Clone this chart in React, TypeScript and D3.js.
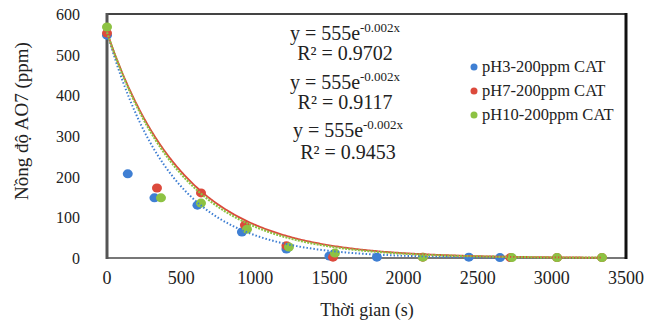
import * as d3 from 'd3';
import * as React from 'react';

// readings
const xTicks = [0, 500, 1000, 1500, 2000, 2500, 3000, 3500];
const yTicks = [0, 100, 200, 300, 400, 500, 600];

const ph3Time = [0, 140, 320, 610, 910, 1210, 1500, 1820, 2440, 2650];
const ph3Conc = [548, 207, 148, 130, 64, 22, 5, 2, 2, 1];

const ph7Time = [0, 337, 634, 930, 1210, 1524, 2130, 2720, 3035, 3338];
const ph7Conc = [553, 172, 160, 81, 30, 2, 2, 1, 1, 1];

const ph10Time = [0, 364, 634, 944, 1227, 1537, 2130, 2730, 3035, 3338];
const ph10Conc = [568, 148, 135, 71, 27, 12, 2, 1, 1, 1];

const seriesNames = ['pH3-200ppm CAT', 'pH7-200ppm CAT', 'pH10-200ppm CAT'];
const fitA = [555, 555, 555];
const fitK = [0.0023, 0.00192, 0.00198];
const fitR2 = ['0.9702', '0.9117', '0.9453'];

const colors = ['#3f7fd3', '#dc4a3c', '#8dc243'];

const Chart = () => {
  const ref = React.useRef<SVGSVGElement | null>(null);

  React.useEffect(() => {
    if (!ref.current) return;
    const svg = d3.select(ref.current);
    svg.selectAll('*').remove();

    const margin = { top: 14, right: 23, bottom: 67, left: 107 };
    const width = 649;
    const height = 325;
    const innerW = width - margin.left - margin.right;
    const innerH = height - margin.top - margin.bottom;

    const x = d3.scaleLinear().domain([0, 3500]).range([margin.left, margin.left + innerW]);
    const y = d3.scaleLinear().domain([0, 600]).range([margin.top + innerH, margin.top]);

    const font = '"Liberation Serif", "Times New Roman", serif';

    svg.append('rect').attr('width', width).attr('height', height).attr('fill', '#fff');

    // frame
    svg.append('line').attr('x1', x(0)).attr('x2', x(3500)).attr('y1', y(600)).attr('y2', y(600)).attr('stroke', '#444').attr('stroke-width', 2);
    svg.append('line').attr('x1', x(0)).attr('x2', x(3500)).attr('y1', y(0)).attr('y2', y(0)).attr('stroke', '#777').attr('stroke-width', 2);
    svg.append('line').attr('x1', x(0)).attr('x2', x(0)).attr('y1', y(600) - 1).attr('y2', y(0) + 1).attr('stroke', '#555').attr('stroke-width', 3);
    svg.append('line').attr('x1', x(3500)).attr('x2', x(3500)).attr('y1', y(600) - 1).attr('y2', y(0) + 1).attr('stroke', '#111').attr('stroke-width', 3);

    // tick labels
    svg
      .selectAll('.xt')
      .data(xTicks)
      .enter()
      .append('text')
      .attr('x', (d) => x(d))
      .attr('y', y(0) + 26)
      .attr('text-anchor', 'middle')
      .style('font-family', font)
      .style('font-size', '18px')
      .attr('fill', '#222')
      .text((d) => d);

    svg
      .selectAll('.yt')
      .data(yTicks)
      .enter()
      .append('text')
      .attr('x', 80)
      .attr('y', (d) => y(d) + 6)
      .attr('text-anchor', 'end')
      .style('font-family', font)
      .style('font-size', '16px')
      .attr('fill', '#222')
      .text((d) => d);

    svg
      .append('text')
      .attr('x', 367)
      .attr('y', 316)
      .attr('text-anchor', 'middle')
      .style('font-family', font)
      .style('font-size', '18px')
      .attr('fill', '#222')
      .text('Thời gian (s)');

    svg
      .append('text')
      .attr('transform', 'translate(28,121) rotate(-90)')
      .attr('text-anchor', 'middle')
      .style('font-family', font)
      .style('font-size', '19px')
      .attr('fill', '#222')
      .text('Nồng độ AO7 (ppm)');

    const series = [
      { t: ph3Time, c: ph3Conc },
      { t: ph7Time, c: ph7Conc },
      { t: ph10Time, c: ph10Conc },
    ];

    // markers
    series.forEach((s, i) => {
      svg
        .append('g')
        .selectAll('ellipse')
        .data(s.t.map((t, j) => [t, s.c[j]]))
        .enter()
        .append('ellipse')
        .attr('cx', (d) => x(d[0]))
        .attr('cy', (d) => y(d[1]))
        .attr('rx', 5)
        .attr('ry', 4.5)
        .attr('fill', colors[i]);
    });

    // exponential trendlines
    const line = d3
      .line<number[]>()
      .x((d) => x(d[0]))
      .y((d) => y(d[1]));
    const dashes = ['1.5 2', null, '2 1.2'];
    const widths = [2, 1.8, 2.2];
    series.forEach((s, i) => {
      const tMax = d3.max(s.t);
      const pts = d3.range(0, tMax + 1, 10).map((t) => [t, fitA[i] * Math.exp(-fitK[i] * t)]);
      svg
        .append('path')
        .attr('d', line(pts))
        .attr('fill', 'none')
        .attr('stroke', colors[i])
        .attr('stroke-width', widths[i])
        .attr('stroke-dasharray', dashes[i]);
    });

    // equations
    const eqY = [40, 89, 137];
    const r2Y = [60, 109, 159];
    const eqX = [345, 345, 348];
    fitR2.forEach((r, i) => {
      const t = svg
        .append('text')
        .attr('x', eqX[i])
        .attr('y', eqY[i])
        .attr('text-anchor', 'middle')
        .style('font-family', font)
        .style('font-size', '20px')
        .attr('fill', '#222');
      t.append('tspan').text(`y = ${fitA[i]}e`);
      t.append('tspan').attr('dy', -8).style('font-size', '13px').text(`-${d3.format('.3f')(0.002)}x`);

      svg
        .append('text')
        .attr('x', eqX[i])
        .attr('y', r2Y[i])
        .attr('text-anchor', 'middle')
        .style('font-family', font)
        .style('font-size', '20px')
        .attr('fill', '#222')
        .text(`R² = ${r}`);
    });

    // legend
    const legendY = [67, 91, 115];
    seriesNames.forEach((name, i) => {
      svg.append('circle').attr('cx', 474).attr('cy', legendY[i]).attr('r', 3.5).attr('fill', colors[i]);
      svg
        .append('text')
        .attr('x', 482)
        .attr('y', legendY[i] + 5)
        .style('font-family', font)
        .style('font-size', '16.5px')
        .attr('fill', '#222')
        .text(name);
    });
  }, []);

  return <svg ref={ref} width={649} height={325} style={{ position: 'absolute', left: 0, top: 0 }} />;
};

export default function App() {
  return <Chart />;
}
